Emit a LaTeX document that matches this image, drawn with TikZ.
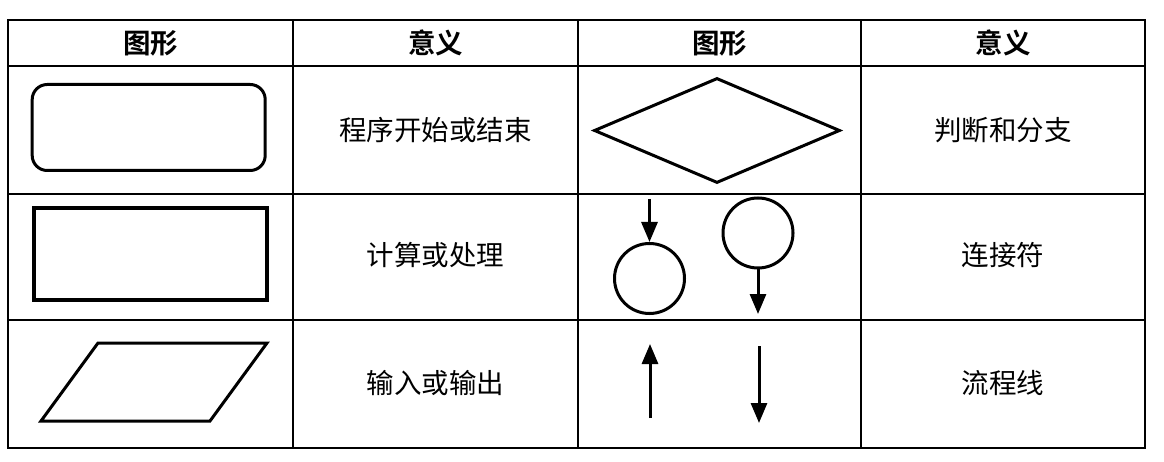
\documentclass[tikz,border=0pt]{standalone}
\usepackage{fontspec}
\newfontfamily\cjk{Noto Sans CJK SC}[BoldFont={Noto Sans CJK SC Bold}]
\usetikzlibrary{shapes.geometric,arrows.meta}

\begin{document}
\begin{tikzpicture}[x=1pt,y=-1pt,
    every node/.style={font=\cjk\fontsize{27.5}{32}\selectfont},
    head/.style={font=\cjk\bfseries\fontsize{27.5}{32}\selectfont},
    symbol/.style={draw, line width=3pt, inner sep=0pt},
    flow/.style={line width=3pt, -{Triangle[length=20pt,width=16pt]}}]

    \useasboundingbox (0,0) rectangle (1164,462);

    % Table grid
    \draw[line width=2.5pt] (8,20) rectangle (1145,448);
    \foreach \y in {66,194,320} \draw[line width=2pt] (8,\y) -- (1145,\y);
    \foreach \x in {293,578,861} \draw[line width=2pt] (\x,20) -- (\x,448);

    % Header
    \node[head] (shapeA) at (150.5,43) {图形};
    \node[head] (meanA) at (435.5,43) {意义};
    \node[head] (shapeB) at (719.5,43) {图形};
    \node[head] (meanB) at (1003,43) {意义};

    % Start / end and decision
    \node[symbol, rounded corners=15pt, minimum width=233pt, minimum height=86pt] (terminal) at (148.7,127.5) {};
    \node (terminalText) at (435.5,130) {程序开始或结束};
    \node[symbol, diamond, minimum width=246pt, minimum height=105pt] (decision) at (717,130.5) {};
    \node (decisionText) at (1003,130) {判断和分支};

    % Process and connectors
    \node[symbol, line width=4pt, minimum width=232.5pt, minimum height=92pt] (process) at (150.7,254) {};
    \node (processText) at (435.5,255) {计算或处理};
    \node[symbol, circle, minimum size=70pt] (connIn) at (649.5,278.5) {};
    \node[symbol, circle, minimum size=70pt] (connOut) at (758,233) {};
    \coordinate (connInStart) at (649.5,199);
    \coordinate (connOutEnd) at (758,314);
    \draw[flow] (connInStart) -- (connIn.north);
    \draw[flow] (connOut.south) -- (connOutEnd);
    \node (connText) at (1003,255) {连接符};

    % Input / output and flow lines
    \draw[line width=3pt, line join=miter] (98,343) -- (267,343) -- (210,421) -- (41,421) -- cycle;
    \node (ioText) at (435.5,383) {输入或输出};
    \coordinate (upStart) at (650,418);
    \coordinate (upEnd) at (650,344);
    \coordinate (downStart) at (759,346);
    \coordinate (downEnd) at (759,423);
    \draw[flow] (upStart) -- (upEnd);
    \draw[flow] (downStart) -- (downEnd);
    \node (flowText) at (1003,383) {流程线};
\end{tikzpicture}
\end{document}
